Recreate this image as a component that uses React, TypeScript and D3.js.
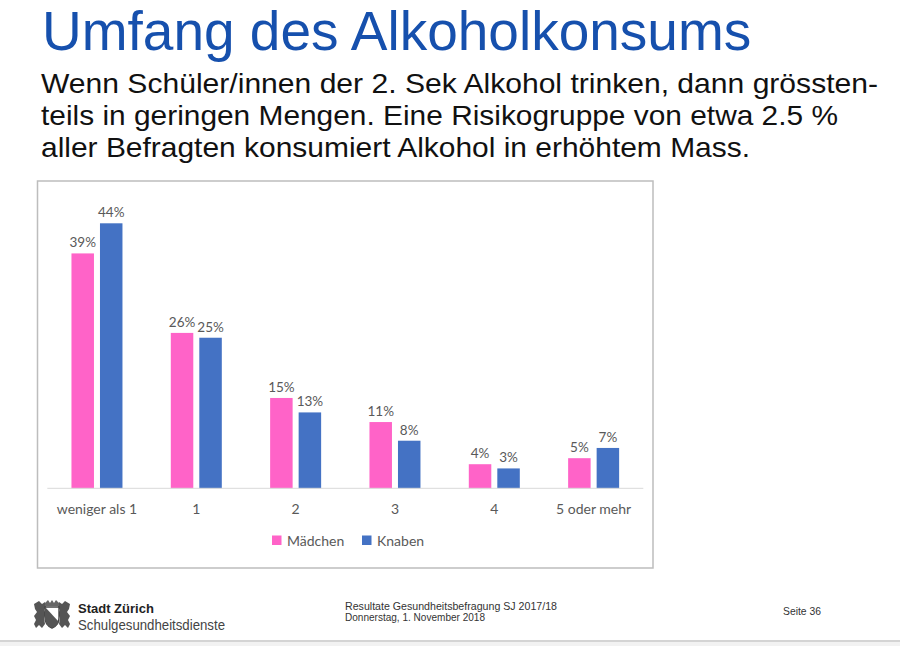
import React from "react";
import * as d3 from "d3";

const categories = ["weniger als 1", "1", "2", "3", "4", "5 oder mehr"];
const series = ["Mädchen", "Knaben"];
const maedchen = [39, 25.8, 15, 11, 4, 5];
const knaben = [44, 25, 12.6, 7.9, 3.3, 6.7];
const seriesValues = [maedchen, knaben];
const colors = ["#ff63c8", "#4472c4"];

const title = "Umfang des Alkoholkonsums";
const subtitle = [
  "Wenn Schüler/innen der 2. Sek Alkohol trinken, dann grössten-",
  "teils in geringen Mengen. Eine Risikogruppe von etwa 2.5 %",
  "aller Befragten konsumiert Alkohol in erhöhtem Mass.",
];
const subtitleWidths = [837, 797, 709];

const W = 900;
const H = 646;
const plotLeft = 47.3;
const plotRight = 643.3;
const baseY = 488.3;

export default function App() {
  const x = d3.scaleBand<string>().domain(categories).range([plotLeft, plotRight]).padding(0);
  const groupW = 51;
  const xs = d3
    .scaleBand<string>()
    .domain(series)
    .range([-groupW / 2, groupW / 2])
    .paddingInner(0.211)
    .paddingOuter(0);
  const y = d3.scaleLinear().domain([0, 44]).range([baseY, 223.3]);

  const labelFont = "Lato, 'Open Sans', sans-serif";

  return (
    <svg
      width={W}
      height={H}
      viewBox={`0 0 ${W} ${H}`}
      style={{ position: "absolute", left: 0, top: 0, background: "#fff" }}
    >
      <rect x={0} y={0} width={W} height={H} fill="#ffffff" />
      {/* Title */}
      <text
        x={42}
        y={50}
        fontFamily="'Liberation Sans', Arial, sans-serif"
        fontSize={55}
        fill="#1650ad"
      >
        {title}
      </text>
      {subtitle.map((s, i) => (
        <text
          key={i}
          x={41}
          y={93 + i * 32}
          fontFamily="'Liberation Sans', Arial, sans-serif"
          fontSize={28}
          fill="#111"
          textLength={subtitleWidths[i]}
          lengthAdjust="spacingAndGlyphs"
        >
          {s}
        </text>
      ))}

      {/* Chart frame */}
      <rect x={37.5} y={181} width={615.5} height={387} fill="#fff" stroke="#bdbdbd" strokeWidth={1.5} />

      {/* Bars */}
      {categories.map((c, ci) => (
        <g key={c} transform={`translate(${(x(c) as number) + x.bandwidth() / 2},0)`}>
          {series.map((s, si) => {
            const v = seriesValues[si][ci];
            const bx = xs(s) as number;
            return (
              <g key={s}>
                <rect x={bx} y={y(v)} width={xs.bandwidth()} height={baseY - y(v)} fill={colors[si]} />
                <text
                  x={bx + xs.bandwidth() / 2}
                  y={y(v) - 6}
                  textAnchor="middle"
                  fontFamily={labelFont}
                  fontSize={13.5}
                  fill="#595959"
                >
                  {Math.round(v)}%
                </text>
              </g>
            );
          })}
        </g>
      ))}

      {/* Axis line */}
      <line x1={plotLeft} x2={plotRight} y1={baseY} y2={baseY} stroke="#d9d9d9" strokeWidth={1} />
      {categories.map((c) => (
        <text
          key={c}
          x={(x(c) as number) + x.bandwidth() / 2}
          y={514}
          textAnchor="middle"
          fontFamily={labelFont}
          fontSize={14}
          fill="#595959"
        >
          {c}
        </text>
      ))}

      {/* Legend */}
      {series.map((s, i) => {
        const lx = [272, 362][i];
        return (
          <g key={s}>
            <rect x={lx} y={535.5} width={9.5} height={9.5} fill={colors[i]} />
            <text x={lx + 15} y={545.5} fontFamily={labelFont} fontSize={14} fill="#595959">
              {s}
            </text>
          </g>
        );
      })}

      {/* Footer logo */}
      <g transform="translate(33,600)" fill="#444" stroke="none">
        <path d="M1,4 L6,1 L9,4 L12,2 L13,7 L11,10 L13,14 L11,18 L12,24 L9,28 L6,25 L3,28 L1,24 L3,20 L1,16 L4,12 L2,9 Z" fill="#555" />
        <path d="M37,4 L32,1 L29,4 L26,2 L25,7 L27,10 L25,14 L27,18 L26,24 L29,28 L32,25 L35,28 L37,24 L35,20 L37,16 L34,12 L36,9 Z" fill="#555" />
        <path d="M12,3 L15,0 L17,3 L19,0 L21,3 L23,0 L26,3 L26,6 L12,6 Z" fill="#666" />
        <path d="M12,7 L26,7 L26,18 Q26,25 19,28 Q12,25 12,18 Z" fill="#fff" stroke="#444" strokeWidth={1.4} />
        <path d="M12,7 L26,22 Q24,26 19,28 Q12,25 12,18 Z" fill="#555" />
      </g>
      <text x={78} y={613} fontFamily="'Liberation Sans', Arial, sans-serif" fontSize={13} fontWeight="bold" fill="#222">
        Stadt Zürich
      </text>
      <text x={78} y={630} fontFamily="'Liberation Sans', Arial, sans-serif" fontSize={14} fill="#444" textLength={147} lengthAdjust="spacingAndGlyphs">
        Schulgesundheitsdienste
      </text>
      <text x={345} y={610} fontFamily="'Liberation Sans', Arial, sans-serif" fontSize={10.5} fill="#333" textLength={212} lengthAdjust="spacingAndGlyphs">
        Resultate Gesundheitsbefragung SJ 2017/18
      </text>
      <text x={345} y={621} fontFamily="'Liberation Sans', Arial, sans-serif" fontSize={10.5} fill="#333" textLength={140} lengthAdjust="spacingAndGlyphs">
        Donnerstag, 1. November 2018
      </text>
      <text x={783} y={615} fontFamily="'Liberation Sans', Arial, sans-serif" fontSize={10.5} fill="#333" textLength={38} lengthAdjust="spacingAndGlyphs">
        Seite 36
      </text>
      <rect x={0} y={640} width={W} height={2} fill="#d4d4d4" />
      <rect x={0} y={642} width={W} height={4} fill="#f2f2f2" />
    </svg>
  );
}
